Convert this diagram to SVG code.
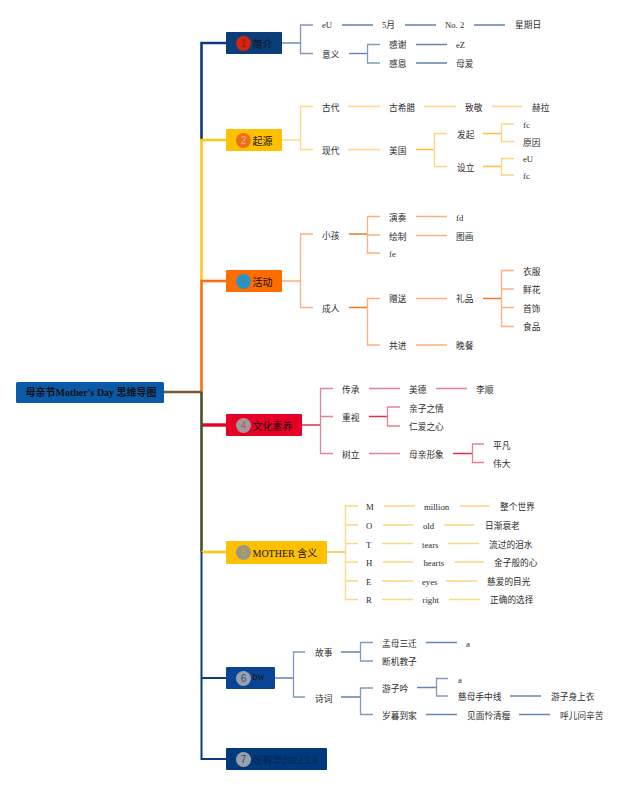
<svg xmlns="http://www.w3.org/2000/svg" width="640" height="786" viewBox="0 0 640 786">
<style>
text{font-family:"Liberation Serif","Noto Sans CJK SC",serif;font-size:8.7px;fill:#2b2b2b}
.b text,text.b{font-size:10px;fill:#111}
.num{font-family:"Liberation Sans",sans-serif;font-size:10px;text-anchor:middle}
path{fill:none}
.trunk{stroke-width:2.6}
.nl{stroke:#8298bd;stroke-width:1.300}.ns{stroke:#6484ae;stroke-width:1.400}
.yl{stroke:#fdd680;stroke-width:1.300}.ys{stroke:#f6c03c;stroke-width:1.500}
.ol{stroke:#fdae7c;stroke-width:1.300}.os{stroke:#ee7a28;stroke-width:1.500}
.rl{stroke:#e88098;stroke-width:1.300}.rs{stroke:#d6324f;stroke-width:1.500}
</style>
<g id="connectors">
<g id="trunk">
<path class="trunk" stroke="#0b3d78" d="M226 43H201.500V140"/>
<path class="trunk" stroke="#ffc61a" d="M226 140H201.500V281"/>
<path class="trunk" stroke="#ff6c0a" d="M226 281H201.500V392"/>
<path class="trunk" stroke="#7a5a30" d="M164 392H201.500"/>
<path stroke="#e60026" stroke-width="3.400" d="M201.500 425H226"/>
<path class="trunk" stroke="#44502f" d="M201.500 392V552"/>
<path class="trunk" stroke="#ffc61a" d="M201.500 552H226"/>
<path stroke="#0b3d78" stroke-width="2" d="M201.500 552V759H226M201.500 678H226"/>
</g>
<g id="branch1">
<path class="nl" d="M313 25H300.500V53.500H313"/><path class="ns" d="M282 43H300.500"/>
<path class="ns" d="M342 25H373M405 25H436M474 25H505M416 44.500H447M416 63H447"/>
<path class="ns" d="M349 53.500H367"/><path class="nl" d="M380 44.500H367.500V63H380"/>
</g>
<g id="branch2">
<path class="yl" d="M313 106.500H300.500V149.500H313"/><path class="yl" d="M282 140H300.500"/>
<path class="yl" d="M348 106.500H380M424 106.500H456M492 106.500H522M348 149.500H380"/>
<path class="ys" d="M416 149.500H434M483 133.500H501M483 166.500H501"/>
<path class="yl" d="M447 133.500H434.500V166.500H447M514 124H501.500V141.500H514M514 158.500H501.500V175H514"/>
</g>
<g id="branch3">
<path class="ol" d="M313 234H300.500V307.500H313M282 281H300.500"/>
<path class="os" d="M349 234H367M349 307.500H367M483 298.500H501"/>
<path class="ol" d="M380 216.500H367.500V253H380M367.500 235H380M380 298.500H367.500V345H380"/>
<path class="ol" d="M416 216.500H447M416 235.500H447M416 298.500H447M416 345H447"/>
<path class="ol" d="M514 270.500H501.500V326.500H514M501.500 289H514M501.500 307.500H514"/>
</g>
<g id="branch4">
<path class="rs" d="M302 425H320.500M369 416.500H387M453 453.500H472"/>
<path class="rl" d="M333 388.500H320.500V453.500H333M320.500 416.500H333"/>
<path class="rl" d="M369 388.500H400M436 388.500H467M369 453.500H400"/>
<path class="rl" d="M400 407H387.500V426H400M484 444H472.500V462.500H484"/>
</g>
<g id="branch5">
<path class="ys" d="M327 552H345.500"/>
<path class="yl" d="M358 506H345.500V599.500H358M345.500 525H358M345.500 543.500H358M345.500 562H358M345.500 581H358"/>
<path class="yl" d="M384 506H415M460 506H490M383 525H413M444 525H474M382 543.500H413M448 543.500H479M383 562H413M454 562H484M382 581H413M446 581H477M382 599.500H413M449 599.500H480"/>
</g>
<g id="branch6">
<path class="ns" d="M275 678H293.500M341 652H360M341 697H360M417 687.500H436"/>
<path class="nl" d="M305 652H293.500V697H305M373 642.500H360.500V661H373M373 688H360.500V714.500H373M448 678.500H436.500V696H448"/>
<path class="ns" d="M426 642.500H457M510 696H541M426 714.500H457M519 714.500H550"/>
</g>
</g>
<g id="root"><rect x="16" y="382" width="148" height="21" rx="1.500" fill="#0b5aa8"/><text class="b" x="25.500" y="396" style="font-weight:bold">母亲节Mother's Day 思维导图</text></g>
<g id="b1" class="b"><rect x="226" y="32" width="56" height="22" rx="1" fill="#0b3d78"/><circle cx="243.500" cy="43.500" r="7.500" fill="#d7240f"/><text class="num" x="243.500" y="47" style="fill:#8a1a10">1</text><text x="252.500" y="47.500">简介</text></g>
<g id="b2" class="b"><rect x="226" y="129" width="56" height="22" rx="1" fill="#ffc000"/><circle cx="243.500" cy="140.500" r="7.500" fill="#e8711a"/><text class="num" x="243.500" y="144" style="fill:#f8b060">2</text><text x="252.500" y="144.500">起源</text></g>
<g id="b3" class="b"><rect x="226" y="270" width="56" height="22" rx="1" fill="#ff6c00"/><circle cx="243.500" cy="281.500" r="7.500" fill="#2c93c9"/><text class="num" x="243.500" y="285" style="fill:#3a86b0">3</text><text x="252.500" y="285.500">活动</text></g>
<g id="b4" class="b"><rect x="226" y="414" width="76" height="22" rx="1" fill="#e60026"/><circle cx="243.500" cy="425.500" r="7.500" fill="#a09a9a"/><text class="num" x="243.500" y="429" style="fill:#c05060">4</text><text x="252.500" y="429.500">文化素养</text></g>
<g id="b5" class="b"><rect x="226" y="541" width="101" height="23" rx="1" fill="#ffc000"/><circle cx="243.500" cy="552.500" r="7.500" fill="#9b9488"/><text class="num" x="243.500" y="556" style="fill:#d0a820">5</text><text x="252.500" y="556.500">MOTHER 含义</text></g>
<g id="b6" class="b"><rect x="226" y="667" width="49" height="22" rx="1" fill="#0a4595"/><circle cx="243.500" cy="678.500" r="7.500" fill="#98a0ac"/><text class="num" x="243.500" y="682" style="fill:#2a5590">6</text><text x="252.500" y="680">bw</text></g>
<g id="b7" class="b"><rect x="226" y="748" width="101" height="22" rx="1" fill="#003a7c"/><circle cx="243.500" cy="759.500" r="7.500" fill="#98a0ac"/><text class="num" x="243.500" y="763" style="fill:#2a4a70">7</text><text x="252.500" y="763.500" style="fill:#0a2448">张有华2022.5.8</text></g>
<g id="labels1">
<g id="n1"><text x="322" y="28">eU</text></g><g id="n2"><text x="382" y="28">5月</text></g><g id="n3"><text x="445" y="28">No. 2</text></g><g id="n4"><text x="515" y="28">星期日</text></g>
<g id="n5"><text x="322" y="57.500">意义</text></g><g id="n6"><text x="389" y="48">感谢</text></g><g id="n7"><text x="456" y="48">eZ</text></g><g id="n8"><text x="389" y="66.500">感恩</text></g><g id="n9"><text x="456" y="66.500">母爱</text></g>
</g>
<g id="labels2">
<g id="n10"><text x="322" y="110.500">古代</text></g><g id="n11"><text x="389" y="110.500">古希腊</text></g><g id="n12"><text x="465" y="110.500">致敬</text></g><g id="n13"><text x="532" y="110.500">赫拉</text></g>
<g id="n14"><text x="322" y="153.500">现代</text></g><g id="n15"><text x="389" y="153.500">美国</text></g><g id="n16"><text x="457" y="137.500">发起</text></g><g id="n17"><text x="523" y="128">fc</text></g><g id="n18"><text x="523" y="145.500">原因</text></g>
<g id="n19"><text x="457" y="170.500">设立</text></g><g id="n20"><text x="523" y="162">eU</text></g><g id="n21"><text x="523" y="179">fc</text></g>
</g>
<g id="labels3">
<g id="n22"><text x="322" y="238.500">小孩</text></g><g id="n23"><text x="389" y="221">演奏</text></g><g id="n24"><text x="456" y="221">fd</text></g><g id="n25"><text x="389" y="239.500">绘制</text></g><g id="n26"><text x="456" y="239.500">图画</text></g><g id="n27"><text x="389" y="257">fe</text></g>
<g id="n28"><text x="322" y="312">成人</text></g><g id="n29"><text x="389" y="302">赠送</text></g><g id="n30"><text x="456" y="302">礼品</text></g><g id="n31"><text x="523" y="274.500">衣服</text></g><g id="n32"><text x="523" y="293">鲜花</text></g><g id="n33"><text x="523" y="311.500">首饰</text></g><g id="n34"><text x="523" y="330">食品</text></g>
<g id="n35"><text x="389" y="349">共进</text></g><g id="n36"><text x="456" y="349">晚餐</text></g>
</g>
<g id="labels4">
<g id="n37"><text x="342" y="392.500">传承</text></g><g id="n38"><text x="409" y="392.500">美德</text></g><g id="n39"><text x="476" y="392.500">李顺</text></g>
<g id="n40"><text x="342" y="420.500">重视</text></g><g id="n41"><text x="409" y="411.500">亲子之情</text></g><g id="n42"><text x="409" y="430">仁爱之心</text></g>
<g id="n43"><text x="342" y="457.500">树立</text></g><g id="n44"><text x="409" y="457.500">母亲形象</text></g><g id="n45"><text x="493" y="448.500">平凡</text></g><g id="n46"><text x="493" y="467">伟大</text></g>
</g>
<g id="labels5">
<g id="n47"><text x="366" y="510">M</text></g><g id="n48"><text x="424" y="510">million</text></g><g id="n49"><text x="500" y="510">整个世界</text></g>
<g id="n50"><text x="366" y="528.500">O</text></g><g id="n51"><text x="423" y="528.500">old</text></g><g id="n52"><text x="485" y="528.500">日渐衰老</text></g>
<g id="n53"><text x="366" y="547.500">T</text></g><g id="n54"><text x="422" y="547.500">tears</text></g><g id="n55"><text x="489" y="547.500">流过的泪水</text></g>
<g id="n56"><text x="366" y="566">H</text></g><g id="n57"><text x="423.500" y="566">hearts</text></g><g id="n58"><text x="494" y="566">金子般的心</text></g>
<g id="n59"><text x="366" y="584.500">E</text></g><g id="n60"><text x="422" y="584.500">eyes</text></g><g id="n61"><text x="487" y="584.500">慈爱的目光</text></g>
<g id="n62"><text x="366" y="603">R</text></g><g id="n63"><text x="422.500" y="603">right</text></g><g id="n64"><text x="490" y="603">正确的选择</text></g>
</g>
<g id="labels6">
<g id="n65"><text x="315" y="656">故事</text></g><g id="n66"><text x="382" y="646.500">孟母三迁</text></g><g id="n67"><text x="466" y="647">a</text></g><g id="n68"><text x="382" y="665">断机教子</text></g>
<g id="n69"><text x="315" y="701.500">诗词</text></g><g id="n70"><text x="382" y="692">游子吟</text></g><g id="n71"><text x="458" y="682.500">a</text></g><g id="n72"><text x="458" y="700">慈母手中线</text></g><g id="n73"><text x="551" y="700">游子身上衣</text></g>
<g id="n74"><text x="382" y="718.500">岁暮到家</text></g><g id="n75"><text x="467" y="718.500">见面怜清瘦</text></g><g id="n76"><text x="560" y="718.500">呼儿问辛苦</text></g>
</g>
</svg>
